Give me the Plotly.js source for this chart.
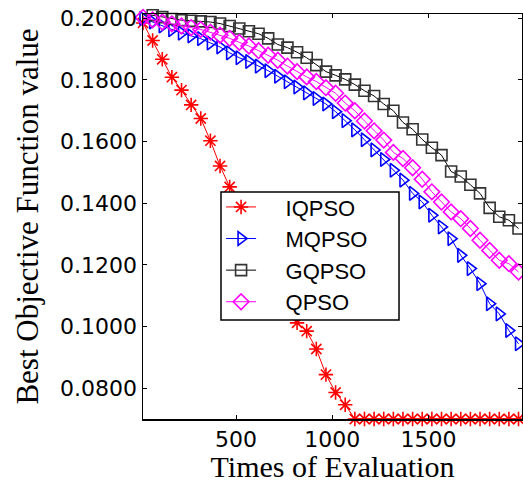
<!DOCTYPE html>
<html>
<head>
<meta charset="utf-8">
<script src="https://cdn.plot.ly/plotly-3.0.1.min.js"></script>
<style>html,body{margin:0;padding:0;background:#fff;}#chart{width:523px;height:483px;}</style>
</head>
<body>
<div id="chart"></div>
<script>
var evals = [17,67,117,167,217,267,317,367,417,467,517,567,617,667,717,767,817,867,917,967,
             1017,1067,1117,1167,1217,1267,1317,1367,1417,1467,1517,1567,1617,1667,1717,1767,1817,1867,1917,1967];

var iqpso = [0.1985,0.1928,0.1867,0.1809,0.1767,0.1719,0.1675,0.1603,0.1521,0.1453,
             0.1390,0.1327,0.1264,0.1201,0.1138,0.1075,0.1012,0.0985,0.0927,0.0844,
             0.0786,0.0746,0.0700,0.0700,0.0700,0.0700,0.0700,0.0700,0.0700,0.0700,
             0.0700,0.0700,0.0700,0.0700,0.0700,0.0700,0.0700,0.0700,0.0700,0.0700];

var mqpso = [0.2000,0.1988,0.1975,0.1963,0.1952,0.1943,0.1934,0.1920,0.1907,0.1888,
             0.1872,0.1860,0.1845,0.1830,0.1812,0.1794,0.1777,0.1758,0.1740,0.1722,
             0.1697,0.1668,0.1638,0.1606,0.1573,0.1542,0.1507,0.1475,0.1432,0.1404,
             0.1361,0.1323,0.1285,0.1231,0.1188,0.1139,0.1074,0.1041,0.0987,0.0944];

var gqpso = [0.2015,0.2010,0.2004,0.1998,0.1994,0.1992,0.1990,0.1988,0.1983,0.1975,
             0.1967,0.1958,0.1950,0.1935,0.1915,0.1905,0.1890,0.1872,0.1848,0.1827,
             0.1815,0.1802,0.1785,0.1765,0.1748,0.1722,0.1700,0.1662,0.1640,0.1607,
             0.1580,0.1556,0.1503,0.1487,0.1460,0.1432,0.1385,0.1356,0.1345,0.1318];

var qpso  = [0.2003,0.1995,0.1988,0.1982,0.1975,0.1970,0.1964,0.1955,0.1945,0.1935,
             0.1922,0.1910,0.1895,0.1880,0.1864,0.1845,0.1827,0.1810,0.1795,0.1775,
             0.1757,0.1725,0.1700,0.1667,0.1635,0.1605,0.1565,0.1545,0.1515,0.1478,
             0.1437,0.1404,0.1372,0.1350,0.1318,0.1280,0.1247,0.1215,0.1204,0.1177];

var seriesNames = ['IQPSO','MQPSO','GQPSO','QPSO'];
var yTickVals = [0.08,0.10,0.12,0.14,0.16,0.18,0.20];
var xTickVals = [500,1000,1500];

var NB = '\u00a0';
function pad(s) { return NB + NB + NB + NB + s; }

function mk(name, y, color, symbol, size, mcolor) {
  return {
    x: evals, y: y, name: pad(name), type: 'scatter', mode: 'lines+markers',
    cliponaxis: false,
    line: {color: color, width: 1},
    marker: {symbol: symbol, size: size, color: mcolor || color, line: {color: mcolor || color, width: 1.6}}
  };
}

var data = [
  mk(seriesNames[0], iqpso, '#ff0000', 'asterisk-open', 12),
  mk(seriesNames[1], mqpso, '#0000ff', 'triangle-right-open', 12),
  mk(seriesNames[2], gqpso, '#000000', 'square-open', 11, '#333333'),
  mk(seriesNames[3], qpso, '#ff00ff', 'diamond-open', 12)
];

var layout = {
  width: 523, height: 483,
  margin: {l: 143, r: 1, t: 14, b: 64, pad: 0},
  paper_bgcolor: '#ffffff', plot_bgcolor: '#ffffff',
  showlegend: true,
  legend: {
    x: 0.206, y: 0.575, xanchor: 'left', yanchor: 'top',
    bgcolor: 'rgba(0,0,0,0)', borderwidth: 0,
    font: {family: 'Liberation Sans, Arial, sans-serif', size: 22, color: '#000'},
    tracegroupgap: 0
  },
  shapes: [{
    type: 'rect', xref: 'paper', yref: 'paper', layer: 'above',
    x0: 0.2058, x1: 0.6755, y0: 0.2444, y1: 0.5605,
    fillcolor: '#ffffff', line: {color: '#000000', width: 1.5}
  }],
  xaxis: {
    range: [17, 1985], tickvals: xTickVals, ticktext: xTickVals.map(String),
    ticks: 'inside', ticklen: 4, tickcolor: '#000', showgrid: false, zeroline: false,
    showline: true, linecolor: '#000', linewidth: 1.5, mirror: 'ticks',
    tickfont: {family: 'DejaVu Sans, sans-serif', size: 22, color: '#000'},
    title: {text: 'Times of Evaluation', standoff: 4,
            font: {family: 'Liberation Serif, Times New Roman, serif', size: 30, color: '#000'}}
  },
  yaxis: {
    range: [0.07, 0.2014], tickvals: yTickVals, tickformat: '.4f',
    ticks: 'inside', ticklen: 4, tickcolor: '#000', showgrid: false, zeroline: false,
    showline: true, linecolor: '#000', linewidth: 1.5, mirror: 'ticks',
    tickfont: {family: 'DejaVu Sans, sans-serif', size: 22, color: '#000'},
    title: {text: 'Best Objective Function value', standoff: 12,
            font: {family: 'Liberation Serif, Times New Roman, serif', size: 31, color: '#000'}}
  }
};

Plotly.newPlot('chart', data, layout, {displayModeBar: false, staticPlot: true});
</script>
</body>
</html>
